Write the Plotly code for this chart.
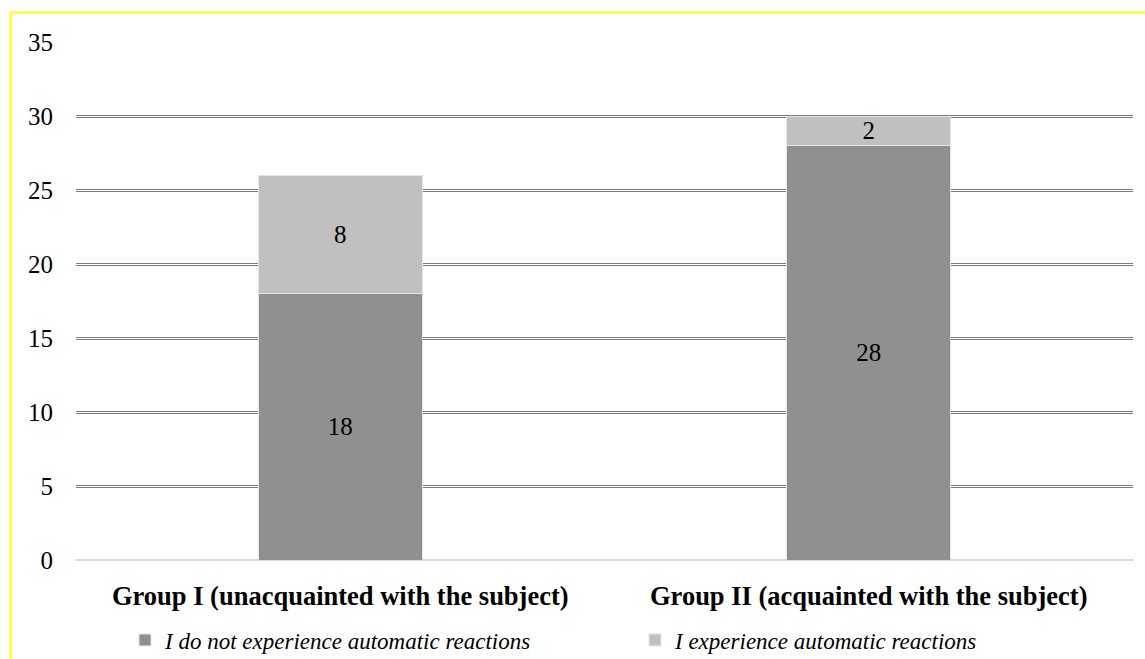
import plotly.graph_objects as go

categories = ["Group I (unacquainted with the subject)", "Group II (acquainted with the subject)"]
no_reactions = [18, 28]
reactions = [8, 2]
series_names = ["I do not experience automatic reactions", "I experience automatic reactions"]
y_ticks = [0, 5, 10, 15, 20, 25, 30, 35]

FONT = "Liberation Serif, Times New Roman, DejaVu Serif, serif"
FS = 25

fig = go.Figure()
fig.add_trace(go.Bar(
    x=categories, y=no_reactions, name=series_names[0], legend="legend",
    marker=dict(color="#909090", line=dict(color="#e6e6e6", width=1)),
    text=no_reactions, textposition="inside", insidetextanchor="middle",
    textangle=0, constraintext="none",
    textfont=dict(family=FONT, size=FS, color="black"),
))
fig.add_trace(go.Bar(
    x=categories, y=reactions, name=series_names[1], legend="legend2",
    marker=dict(color="#c0c0c0", line=dict(color="#e6e6e6", width=1)),
    text=reactions, textposition="inside", insidetextanchor="middle",
    textangle=0, constraintext="none",
    textfont=dict(family=FONT, size=FS, color="black"),
))
# invisible trace to activate the overlay axis carrying the white inner grid line
fig.add_trace(go.Bar(x=categories, y=[0, 0], yaxis="y2", showlegend=False,
                     hoverinfo="skip", marker=dict(color="rgba(0,0,0,0)")))

L, R, T, B = 75.5, 11.5, 42, 99
W, H = 1145, 659
pw, ph = W - L - R, H - T - B

legend_font = dict(family=FONT, size=23, color="black", style="italic")

fig.update_layout(
    width=W, height=H,
    margin=dict(l=L, r=R, t=T, b=B, pad=0, autoexpand=False),
    barmode="stack", bargap=0.69,
    plot_bgcolor="white", paper_bgcolor="white",
    font=dict(family=FONT, size=FS, color="black"),
    uniformtext=dict(mode="show", minsize=FS),
    showlegend=True,
    legend=dict(
        orientation="h", xref="container", yref="container",
        x=125 / W, xanchor="left", y=1 - 640 / H, yanchor="middle",
        font=legend_font, itemwidth=30,
    ),
    legend2=dict(
        orientation="h", xref="container", yref="container",
        x=635 / W, xanchor="left", y=1 - 640 / H, yanchor="middle",
        font=legend_font, itemwidth=30,
    ),
    xaxis=dict(
        showgrid=False, showline=False, ticks="",
        tickfont=dict(family=FONT, size=26.5, color="black", weight="bold"),
        ticklabelstandoff=17,
    ),
    yaxis=dict(
        range=[0, 35], tickvals=y_ticks, showline=False, ticks="",
        gridcolor="#7c7c7c", gridwidth=3,
        zeroline=True, zerolinecolor="#d9d9d9", zerolinewidth=2,
        tickfont=dict(family=FONT, size=FS, color="black"),
        ticklabelstandoff=22,
    ),
    yaxis2=dict(
        range=[0, 35], tickvals=y_ticks[1:], overlaying="y", side="left",
        showticklabels=False, showline=False, ticks="", zeroline=False,
        gridcolor="white", gridwidth=1,
    ),
    shapes=[
        dict(type="line", xref="paper", yref="paper",
             x0=(10 - L) / pw, x1=1.05, y0=1 + (T - 12.5) / ph, y1=1 + (T - 12.5) / ph,
             line=dict(color="#ffff00", width=2)),
        dict(type="line", xref="paper", yref="paper",
             x0=(10 - L) / pw, x1=(10 - L) / pw, y0=-0.3, y1=1 + (T - 12.5) / ph,
             line=dict(color="#ffff00", width=2)),
    ],
)

fig.write_html("out.html")
